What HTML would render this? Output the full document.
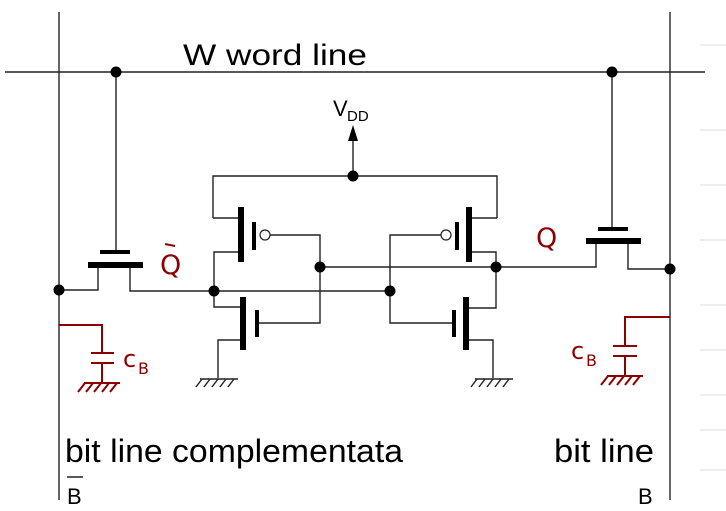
<!DOCTYPE html>
<html><head><meta charset="utf-8"><style>body{margin:0;background:#fff}svg{display:block}</style></head>
<body>
<svg width="726" height="511" viewBox="0 0 726 511" xmlns="http://www.w3.org/2000/svg" font-family="Liberation Sans, sans-serif">
<g stroke="#ddd" stroke-width="1">
<line x1="700" y1="45" x2="726" y2="45"/><line x1="700" y1="130" x2="726" y2="130"/><line x1="700" y1="185" x2="726" y2="185"/><line x1="700" y1="240" x2="726" y2="240"/><line x1="700" y1="305" x2="726" y2="305"/><line x1="700" y1="350" x2="726" y2="350"/><line x1="700" y1="395" x2="726" y2="395"/><line x1="700" y1="430" x2="726" y2="430"/><line x1="700" y1="470" x2="726" y2="470"/>
</g>
<g stroke="#555" stroke-width="1.8" fill="none">
<line x1="59" y1="12" x2="59" y2="500"/>
<line x1="670" y1="12" x2="670" y2="500"/>
</g>
<g stroke="#222" stroke-width="1.4" fill="none">
<line x1="5" y1="72" x2="705" y2="72"/>
<line x1="116" y1="72" x2="116" y2="251"/>
<polyline points="98,266 98,290 59,290"/>
<polyline points="130,266 130,291 214,291"/>
<line x1="612" y1="72" x2="612" y2="228"/>
<polyline points="596,241 596,267 496,267"/>
<polyline points="628,241 628,269 670,269"/>
<line x1="353" y1="176" x2="353" y2="135"/>
<polyline points="213,218 213,176 497,176 497,218"/>
<line x1="213" y1="218" x2="241" y2="218"/>
<line x1="468" y1="218" x2="497" y2="218"/>
<polyline points="241,252 214,252 214,307 243,307"/>
<polyline points="243,340 218,340 218,378"/>
<polyline points="270,235 320,235 320,323 257,323"/>
<line x1="320" y1="267" x2="496" y2="267"/>
<line x1="214" y1="291" x2="390" y2="291"/>
<polyline points="441,235 390,235 390,323 454,323"/>
<polyline points="468,252 496,252 496,308 466,308"/>
<polyline points="466,340 493,340 493,378"/>
<line x1="200" y1="379" x2="238" y2="379"/>
<path d="M196 387l6-8M204 387l6-8M212 387l6-8M220 387l6-8M228 387l6-8"/>
<line x1="475" y1="379" x2="513" y2="379"/>
<path d="M471 387l6-8M479 387l6-8M487 387l6-8M495 387l6-8M503 387l6-8"/>
</g>
<g fill="#000">
<rect x="100" y="250" width="30" height="4"/><rect x="88" y="262" width="55" height="6"/>
<rect x="598" y="227" width="30" height="4"/><rect x="586" y="238" width="55" height="6"/>
<rect x="238" y="207" width="6" height="55"/><rect x="252" y="222" width="4" height="28"/>
<rect x="466" y="207" width="6" height="55"/><rect x="455" y="222" width="4" height="28"/>
<rect x="240" y="297" width="6" height="53"/><rect x="255" y="310" width="4" height="27"/>
<rect x="463" y="297" width="6" height="53"/><rect x="452" y="310" width="4" height="27"/>
<polygon points="353,125 348,141 358,141"/>
<circle cx="116" cy="72" r="5.5"/><circle cx="612" cy="72" r="5.5"/><circle cx="353" cy="176" r="5.5"/>
<circle cx="59" cy="290" r="5.5"/><circle cx="214" cy="291" r="5.5"/><circle cx="320" cy="267" r="5.5"/>
<circle cx="390" cy="291" r="5.5"/><circle cx="496" cy="267" r="5.5"/><circle cx="670" cy="269" r="5.5"/>
</g>
<circle cx="265" cy="235" r="5" fill="#fff" stroke="#222" stroke-width="1.2"/>
<circle cx="446" cy="235" r="5" fill="#fff" stroke="#222" stroke-width="1.2"/>
<g stroke="#8b0000" stroke-width="2" fill="none">
<polyline points="59,325 102,325 102,353"/>
<line x1="91" y1="353" x2="114" y2="353"/><line x1="91" y1="363" x2="114" y2="363"/>
<line x1="102" y1="363" x2="102" y2="383"/><line x1="84" y1="383" x2="120" y2="383"/>
<path d="M78 392l7-9M86 392l7-9M94 392l7-9M102 392l7-9M110 392l7-9"/>
<polyline points="670,317 625,317 625,346"/>
<line x1="613" y1="346" x2="637" y2="346"/><line x1="613" y1="356" x2="637" y2="356"/>
<line x1="625" y1="356" x2="625" y2="376"/><line x1="607" y1="376" x2="643" y2="376"/>
<path d="M601 385l7-9M609 385l7-9M617 385l7-9M625 385l7-9M633 385l7-9"/>
<line x1="165" y1="244" x2="175" y2="246"/>
</g>
<g fill="#8b0000" font-family="DejaVu Sans, sans-serif">
<text x="160" y="274" font-size="27">Q</text>
<text x="536" y="247" font-size="27">Q</text>
<text x="123" y="367" font-size="24">c</text><text x="138" y="374" font-size="16">B</text>
<text x="571" y="359" font-size="24">c</text><text x="586" y="366" font-size="16">B</text>
</g>
<g fill="#000">
<text x="183" y="65" font-size="30" textLength="184" lengthAdjust="spacingAndGlyphs">W  word line</text>
<text x="333" y="116" font-size="22">V</text><text x="347" y="121" font-size="15">DD</text>
<text x="65" y="462" font-size="32" textLength="338" lengthAdjust="spacingAndGlyphs">bit line complementata</text>
<text x="554" y="462" font-size="32" textLength="100" lengthAdjust="spacingAndGlyphs">bit line</text>
<text x="67" y="504" font-size="22">B</text>
<line x1="67" y1="477" x2="83" y2="477" stroke="#000" stroke-width="1.3"/>
<text x="638" y="504" font-size="22">B</text>
</g>
</svg>
</body></html>
